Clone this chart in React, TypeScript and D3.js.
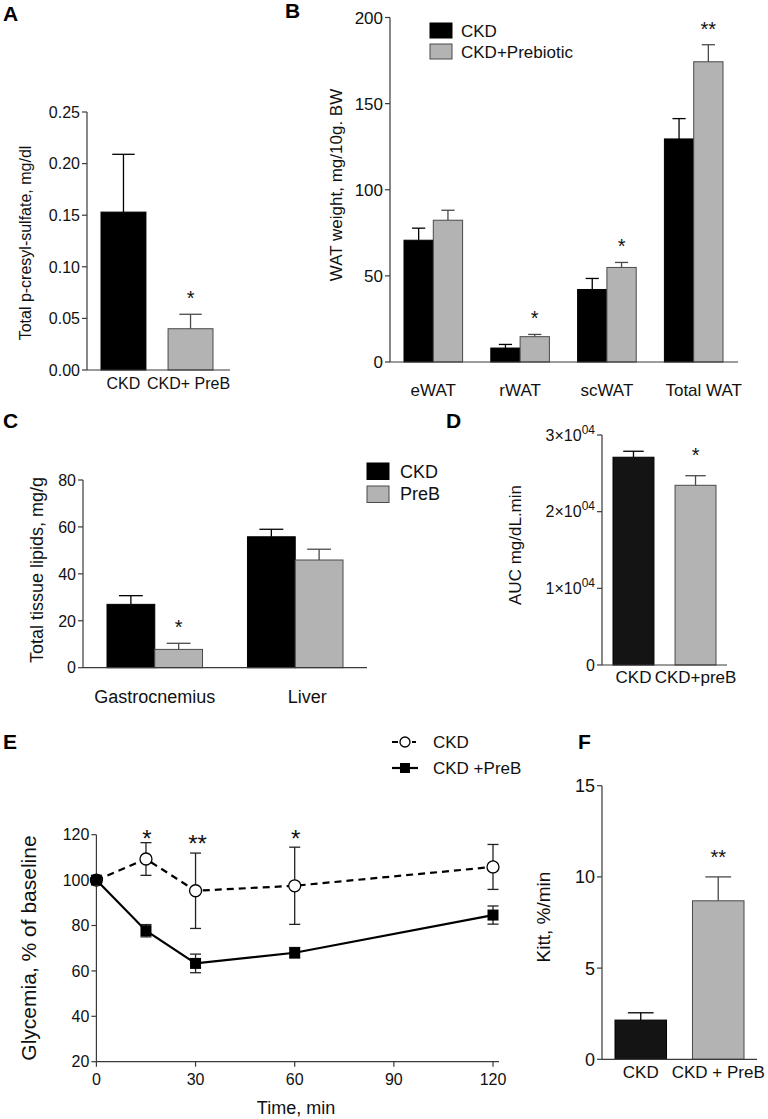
import * as d3 from "d3";
import React from "react";

const FONT = "'Liberation Sans', Arial, Helvetica, sans-serif";
const BLACK = "#000000";
const DARK = "#141414";
const GRAY = "#b3b3b3";
const GRAY_STROKE = "#4a4a4a";
const AXIS = "#3a3a3a";

// Panel A - p-cresyl-sulfate
const aCategories = ["CKD", "CKD+ PreB"];
const aValues = [0.153, 0.040];
const aErrors = [0.056, 0.014];
const aTicks = [0, 0.05, 0.1, 0.15, 0.2, 0.25];
const aStars = ["", "*"];

// Panel B - WAT weight
const bCategories = ["eWAT", "rWAT", "scWAT", "Total WAT"];
const bSeries = ["CKD", "CKD+Prebiotic"];
const bCkd = [70.7, 8.1, 42.1, 129.5];
const bCkdErr = [7.0, 2.1, 6.4, 11.8];
const bPre = [82.3, 14.7, 54.9, 174.3];
const bPreErr = [5.8, 1.3, 2.9, 9.9];
const bTicks = [0, 50, 100, 150, 200];
const bStars = ["", "*", "*", "**"];

// Panel C - tissue lipids
const cCategories = ["Gastrocnemius", "Liver"];
const cSeries = ["CKD", "PreB"];
const cCkd = [27.0, 55.8];
const cCkdErr = [3.7, 3.2];
const cPre = [7.8, 45.9];
const cPreErr = [2.6, 4.6];
const cTicks = [0, 20, 40, 60, 80];
const cStars = ["*", ""];

// Panel D - AUC
const dCategories = ["CKD", "CKD+preB"];
const dValues = [27100, 23440];
const dErrors = [780, 1250];
const dTicks = [0, 10000, 20000, 30000];
const dStars = ["", "*"];

// Panel E - glycemia time course
const eTimes = [0, 15, 30, 60, 120];
const eSeries = ["CKD", "CKD +PreB"];
const eCkd = [100, 109.3, 95.3, 97.5, 105.8];
const eCkdErr = [0, 7.2, 16.6, 17.0, 9.9];
const ePre = [100, 77.7, 63.3, 68.0, 84.6];
const ePreErr = [0, 2.7, 4.1, 2.3, 4.0];
const eYTicks = [20, 40, 60, 80, 100, 120];
const eXTicks = [0, 30, 60, 90, 120];
const eStarTimes = [15, 30, 60];
const eStarLabels = ["*", "**", "*"];
const eStarLevels = [120.4, 118.2, 120.4];

// Panel F - Kitt
const fCategories = ["CKD", "CKD + PreB"];
const fValues = [2.15, 8.69];
const fErrors = [0.4, 1.31];
const fTicks = [0, 5, 10, 15];
const fStars = ["", "**"];

type Lin = d3.ScaleLinear<number, number>;

function YAxis(props: { x: number; y: Lin; ticks: number[]; fmt: (t: number) => React.ReactNode; fontSize: number }) {
    const { x, y, ticks, fmt, fontSize } = props;
    const [d0, d1] = y.domain();
    return (
        <g>
            <line x1={x} x2={x} y1={y(d0)} y2={y(d1)} stroke={AXIS} strokeWidth={1.2} />
            {ticks.map(t => (
                <g key={t}>
                    <line x1={x - 5} x2={x} y1={y(t)} y2={y(t)} stroke={AXIS} strokeWidth={1.2} />
                    <text x={x - 7} y={y(t)} dy="0.36em" textAnchor="end" fontSize={fontSize} fill="#111">{fmt(t)}</text>
                </g>
            ))}
        </g>
    );
}

function YTitle(props: { x: number; y: number; size: number; text: string }) {
    return (
        <text transform={`translate(${props.x},${props.y}) rotate(-90)`} textAnchor="middle" dominantBaseline="central" fontSize={props.size} fill="#111">
            {props.text}
        </text>
    );
}

function Bar(props: { x: number; w: number; y: Lin; v: number; e: number; fill: string; stroke: string; cap?: number }) {
    const { x, w, y, v, e, fill, stroke } = props;
    const cap = props.cap ?? 0.5;
    const top = y(v), errTop = y(v + e), base = y(0);
    const cx = x + w / 2;
    return (
        <g>
            <line x1={cx} x2={cx} y1={top} y2={errTop} stroke={stroke} strokeWidth={1.3} />
            <line x1={cx - (w * cap) / 2} x2={cx + (w * cap) / 2} y1={errTop} y2={errTop} stroke={stroke} strokeWidth={1.3} />
            <rect x={x} y={top} width={w} height={base - top} fill={fill} stroke={stroke} strokeWidth={1} />
        </g>
    );
}

function Star(props: { x: number; errTop: number; label: string; size?: number; gap?: number }) {
    const size = props.size ?? 20;
    const gap = props.gap ?? 20;
    if (!props.label) return null;
    return (
        <text x={props.x} y={props.errTop - gap + 0.55 * size} textAnchor="middle" fontSize={size} fill="#111">{props.label}</text>
    );
}

function PanelLetter(props: { x: number; y: number; t: string }) {
    return <text x={props.x} y={props.y} fontSize={21} fontWeight="bold" fill="#000">{props.t}</text>;
}

function PanelA() {
    const y = d3.scaleLinear().domain([0, 0.25]).range([370, 112]);
    const x = d3.scaleBand<string>().domain(aCategories).range([101, 213]).paddingInner(0.33);
    const w = x.bandwidth();
    return (
        <g>
            <PanelLetter x={3} y={21} t="A" />
            {aCategories.map((c, i) => (
                <Bar key={c} x={x(c)!} w={w} y={y} v={aValues[i]} e={aErrors[i]} fill={i === 0 ? BLACK : GRAY} stroke={i === 0 ? BLACK : GRAY_STROKE} />
            ))}
            <line x1={87} x2={230} y1={y(0)} y2={y(0)} stroke={AXIS} strokeWidth={1.2} />
            <YAxis x={87} y={y} ticks={aTicks} fmt={d3.format(".2f")} fontSize={16} />
            {aCategories.map((c, i) => (
                <g key={c}>
                    <text x={x(c)! + w / 2 - (i === 1 ? 2 : 0)} y={389} textAnchor="middle" fontSize={16} fill="#111">{c}</text>
                    <Star x={x(c)! + w / 2} errTop={y(aValues[i] + aErrors[i])} label={aStars[i]} />
                </g>
            ))}
            <YTitle x={25} y={243} size={16} text="Total p-cresyl-sulfate, mg/dl" />
        </g>
    );
}

function PanelB() {
    const y = d3.scaleLinear().domain([0, 200]).range([362, 17.5]);
    const x0 = d3.scaleBand<string>().domain(bCategories).range([404, 723]).paddingInner(0.325);
    const x1 = d3.scaleBand<string>().domain(bSeries).range([0, x0.bandwidth()]);
    const w = x1.bandwidth();
    const vals = [bCkd, bPre];
    const errs = [bCkdErr, bPreErr];
    return (
        <g>
            <PanelLetter x={285} y={18} t="B" />
            {bCategories.map((c, i) => (
                <g key={c}>
                    {bSeries.map((s, j) => (
                        <Bar key={s} x={x0(c)! + x1(s)!} w={w} y={y} v={vals[j][i]} e={errs[j][i]} fill={j === 0 ? BLACK : GRAY} stroke={j === 0 ? BLACK : GRAY_STROKE} cap={0.45} />
                    ))}
                    <Star x={x0(c)! + x1(bSeries[1])! + w / 2} errTop={y(bPre[i] + bPreErr[i])} label={bStars[i]} />
                    <text x={x0(c)! + x0.bandwidth() / 2 + (i === 3 ? 10 : 0)} y={396} textAnchor="middle" fontSize={17} fill="#111">{c}</text>
                </g>
            ))}
            <line x1={390} x2={738} y1={y(0)} y2={y(0)} stroke={AXIS} strokeWidth={1.2} />
            <YAxis x={390} y={y} ticks={bTicks} fmt={d3.format("d")} fontSize={17} />
            <YTitle x={336} y={185} size={17} text="WAT weight, mg/10g. BW" />
            {bSeries.map((s, j) => (
                <g key={s}>
                    <rect x={430} y={23 + j * 21} width={22} height={15} fill={j === 0 ? BLACK : GRAY} stroke={j === 0 ? BLACK : GRAY_STROKE} />
                    <text x={461} y={31 + j * 21} dy="0.36em" fontSize={17} fill="#111">{s}</text>
                </g>
            ))}
        </g>
    );
}

function PanelC() {
    const y = d3.scaleLinear().domain([0, 80]).range([667.7, 480]);
    const x0 = d3.scaleBand<string>().domain(cCategories).range([107, 343]).paddingInner(0.32);
    const x1 = d3.scaleBand<string>().domain(cSeries).range([0, x0.bandwidth()]);
    const w = x1.bandwidth();
    const vals = [cCkd, cPre];
    const errs = [cCkdErr, cPreErr];
    return (
        <g>
            <PanelLetter x={3} y={428} t="C" />
            {cCategories.map((c, i) => (
                <g key={c}>
                    {cSeries.map((s, j) => (
                        <Bar key={s} x={x0(c)! + x1(s)!} w={w} y={y} v={vals[j][i]} e={errs[j][i]} fill={j === 0 ? BLACK : GRAY} stroke={j === 0 ? BLACK : GRAY_STROKE} cap={0.5} />
                    ))}
                    <Star x={x0(c)! + x1(cSeries[1])! + w / 2} errTop={y(cPre[i] + cPreErr[i])} label={cStars[i]} />
                    <text x={x0(c)! + x0.bandwidth() / 2 + (i === 1 ? 12 : 0)} y={703} textAnchor="middle" fontSize={18} fill="#111">{c}</text>
                </g>
            ))}
            <line x1={83} x2={367} y1={y(0)} y2={y(0)} stroke={AXIS} strokeWidth={1.2} />
            <YAxis x={83} y={y} ticks={cTicks} fmt={d3.format("d")} fontSize={16} />
            <YTitle x={37} y={570} size={18} text="Total tissue lipids, mg/g" />
            {cSeries.map((s, j) => (
                <g key={s}>
                    <rect x={367} y={463 + j * 23} width={22} height={16.5} fill={j === 0 ? BLACK : GRAY} stroke={j === 0 ? BLACK : GRAY_STROKE} />
                    <text x={400} y={472 + j * 22} dy="0.36em" fontSize={18} fill="#111">{s}</text>
                </g>
            ))}
        </g>
    );
}

function PanelD() {
    const y = d3.scaleLinear().domain([0, 30000]).range([665, 435]);
    const x = d3.scaleBand<string>().domain(dCategories).range([613, 716]).paddingInner(0.34);
    const w = x.bandwidth();
    const fmt = (t: number) => {
        if (t === 0) return "0";
        return (
            <>
                <tspan>{`${t / 10000}×10`}</tspan>
                <tspan dy={-7} fontSize={12}>04</tspan>
            </>
        );
    };
    return (
        <g>
            <PanelLetter x={446} y={428} t="D" />
            {dCategories.map((c, i) => (
                <g key={c}>
                    <Bar x={x(c)!} w={w} y={y} v={dValues[i]} e={dErrors[i]} fill={i === 0 ? DARK : GRAY} stroke={i === 0 ? BLACK : GRAY_STROKE} />
                    <Star x={x(c)! + w / 2} errTop={y(dValues[i] + dErrors[i])} label={dStars[i]} gap={25} />
                    <text x={x(c)! + w / 2} y={683} textAnchor="middle" fontSize={17} fill="#111">{c}</text>
                </g>
            ))}
            <line x1={602} x2={727} y1={y(0)} y2={y(0)} stroke={AXIS} strokeWidth={1.2} />
            <YAxis x={602} y={y} ticks={dTicks} fmt={fmt} fontSize={16} />
            <YTitle x={515} y={545} size={17} text="AUC mg/dL.min" />
        </g>
    );
}

function PanelE() {
    const y = d3.scaleLinear().domain([20, 120]).range([1061.7, 834.7]);
    const x = d3.scaleLinear().domain([0, 120]).range([96.4, 493]);
    const line = d3.line<number>().x((_, i) => x(eTimes[i])).y(v => y(v));
    const vals = [eCkd, ePre];
    const errs = [eCkdErr, ePreErr];
    return (
        <g>
            <PanelLetter x={3} y={749} t="E" />
            <line x1={x(0)} x2={499} y1={y(20)} y2={y(20)} stroke={AXIS} strokeWidth={1.2} />
            {eXTicks.map(t => (
                <g key={t}>
                    <line x1={x(t)} x2={x(t)} y1={y(20)} y2={y(20) + 5} stroke={AXIS} strokeWidth={1.2} />
                    <text x={x(t)} y={1085} textAnchor="middle" fontSize={16} fill="#111">{t}</text>
                </g>
            ))}
            <YAxis x={x(0)} y={y} ticks={eYTicks} fmt={d3.format("d")} fontSize={16} />
            <text x={296} y={1114} textAnchor="middle" fontSize={18} fill="#111">Time, min</text>
            <YTitle x={28.6} y={948} size={21} text="Glycemia, % of baseline" />
            {vals.map((series, j) => (
                <g key={eSeries[j]}>
                    <path d={line(series) ?? ""} fill="none" stroke="#000" strokeWidth={2.2} strokeDasharray={j === 0 ? "7,5" : undefined} />
                    {series.map((v, i) => errs[j][i] > 0 ? (
                        <g key={i}>
                            <line x1={x(eTimes[i])} x2={x(eTimes[i])} y1={y(v - errs[j][i])} y2={y(v + errs[j][i])} stroke="#222" strokeWidth={1.3} />
                            <line x1={x(eTimes[i]) - 5.5} x2={x(eTimes[i]) + 5.5} y1={y(v + errs[j][i])} y2={y(v + errs[j][i])} stroke="#222" strokeWidth={1.3} />
                            <line x1={x(eTimes[i]) - 5.5} x2={x(eTimes[i]) + 5.5} y1={y(v - errs[j][i])} y2={y(v - errs[j][i])} stroke="#222" strokeWidth={1.3} />
                        </g>
                    ) : null)}
                    {series.map((v, i) => j === 0 ? (
                        <circle key={i} cx={x(eTimes[i])} cy={y(v)} r={6} fill="#fff" stroke="#000" strokeWidth={1.3} />
                    ) : (
                        <rect key={i} x={x(eTimes[i]) - 5.5} y={y(v) - 5.5} width={11} height={11} fill="#000" />
                    ))}
                </g>
            ))}
            {eStarTimes.map((t, i) => (
                <text key={t} x={x(t) + (i === 1 ? 2 : 1)} y={y(eStarLevels[i]) + 13} textAnchor="middle" fontSize={24} fill="#111">{eStarLabels[i]}</text>
            ))}
            {/* legend */}
            <line x1={392} x2={416} y1={742} y2={742} stroke="#000" strokeWidth={2.2} strokeDasharray="6,4" />
            <circle cx={405} cy={742} r={5} fill="#fff" stroke="#000" strokeWidth={1.3} />
            <text x={433} y={742} dy="0.36em" fontSize={17} fill="#111">{eSeries[0]}</text>
            <line x1={392} x2={418} y1={768} y2={768} stroke="#000" strokeWidth={2.2} />
            <rect x={400} y={763} width={10} height={10} fill="#000" />
            <text x={433} y={768} dy="0.36em" fontSize={17} fill="#111">{eSeries[1]}</text>
        </g>
    );
}

function PanelF() {
    const y = d3.scaleLinear().domain([0, 15]).range([1059.3, 785.7]);
    const x = d3.scaleBand<string>().domain(fCategories).range([615, 744]).paddingInner(0.335);
    const w = x.bandwidth();
    return (
        <g>
            <PanelLetter x={578} y={749} t="F" />
            {fCategories.map((c, i) => (
                <g key={c}>
                    <Bar x={x(c)!} w={w} y={y} v={fValues[i]} e={fErrors[i]} fill={i === 0 ? DARK : GRAY} stroke={i === 0 ? BLACK : GRAY_STROKE} />
                    <Star x={x(c)! + w / 2} errTop={y(fValues[i] + fErrors[i])} label={fStars[i]} gap={24} />
                    <text x={x(c)! + w / 2} y={1078} textAnchor="middle" fontSize={17} fill="#111">{c}</text>
                </g>
            ))}
            <line x1={602} x2={757} y1={y(0)} y2={y(0)} stroke={AXIS} strokeWidth={1.2} />
            <YAxis x={602} y={y} ticks={fTicks} fmt={d3.format("d")} fontSize={18} />
            <YTitle x={543} y={917} size={19} text="Kitt, %/min" />
        </g>
    );
}

export default function App() {
    return (
        <svg width={768} height={1119} style={{ position: "absolute", left: 0, top: 0, background: "#fff" }} fontFamily={FONT}>
            <rect width={768} height={1119} fill="#fff" />
            <PanelA />
            <PanelB />
            <PanelC />
            <PanelD />
            <PanelE />
            <PanelF />
        </svg>
    );
}
